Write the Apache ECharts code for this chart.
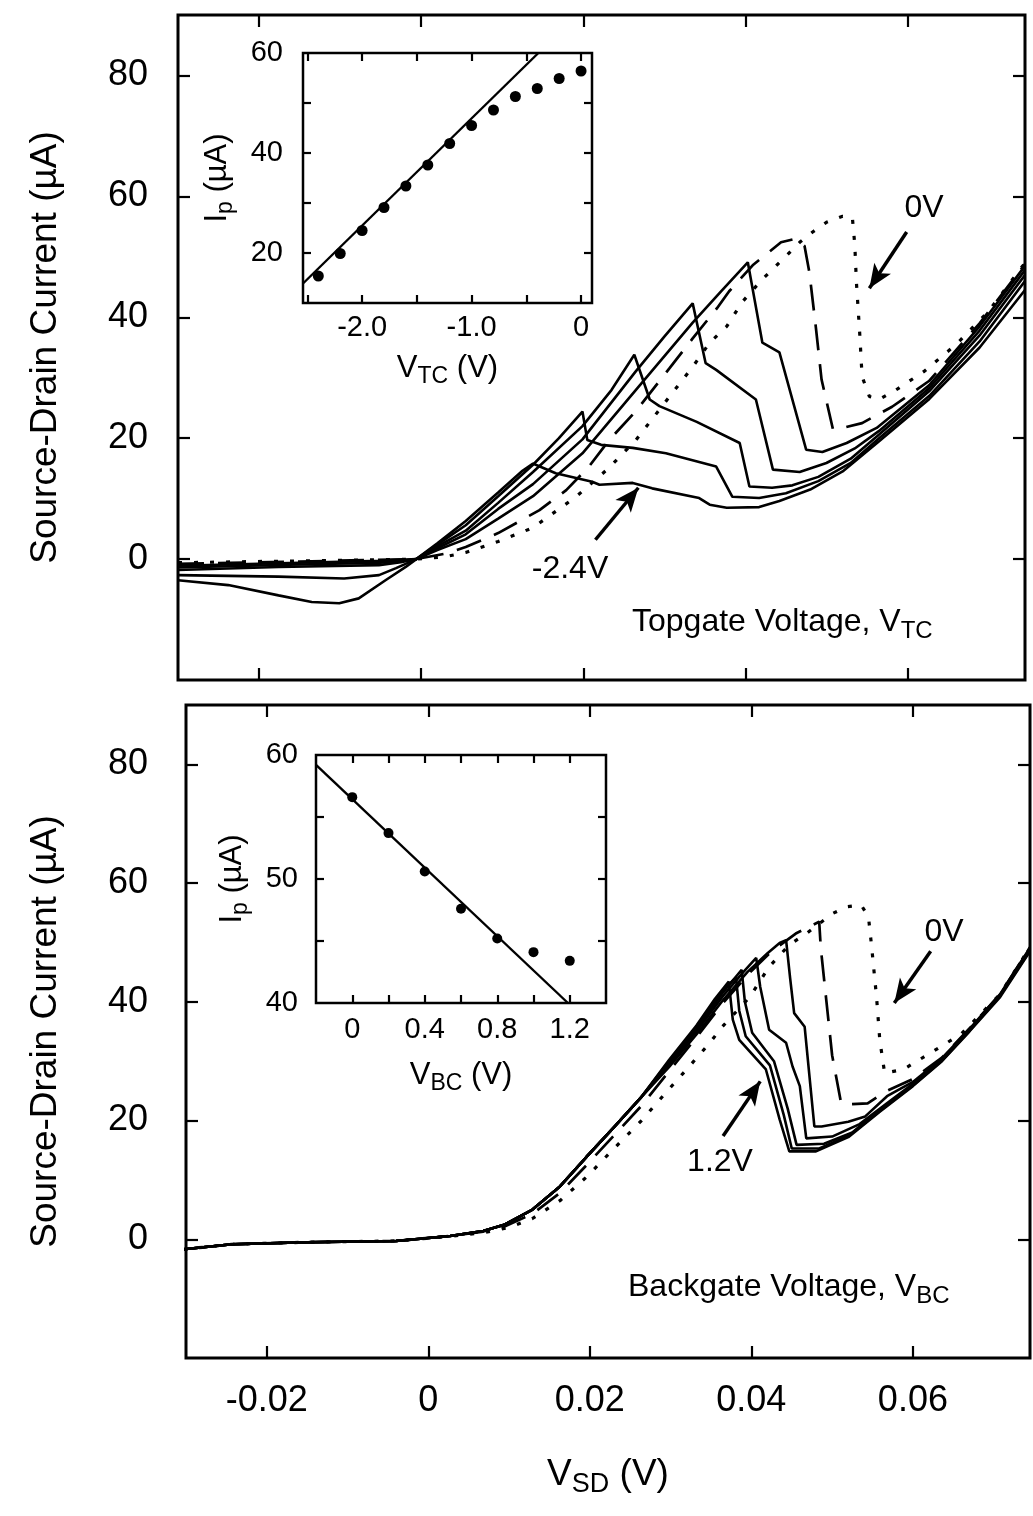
<!DOCTYPE html>
<html>
<head>
<meta charset="utf-8">
<script src="https://cdn.jsdelivr.net/npm/echarts@6.0.0/dist/echarts.min.js"></script>
<style>
html, body { margin: 0; padding: 0; background: #fff; }
#chart { width: 1033px; height: 1516px; }
</style>
</head>
<body>
<div id="chart"></div>
<script>
'use strict';

// ---- top panel: I-V curves for topgate voltage V_TC (every 0.4 V) ----
const tcM24 = [[-0.0300,-3.5],[-0.0238,-4.3],[-0.0176,-6.0],[-0.0135,-7.1],[-0.0101,-7.3],[-0.0077,-6.5],[-0.0044,-3.5],[-0.0019,-1.3],[-0.0006,0],[0.0020,2.6],[0.0055,6.3],[0.0095,11.0],[0.0125,14.6],[0.0138,15.8],[0.0145,15.4],[0.0166,14.2],[0.0211,12.8],[0.0220,12.3],[0.0261,12.6],[0.0285,11.7],[0.0343,10.1],[0.0356,9.0],[0.0377,8.5],[0.0417,8.6],[0.0442,9.6],[0.0480,11.5],[0.0520,14.5],[0.0565,19.5],[0.0627,26.5],[0.0689,35.0],[0.0745,44.5]];
const tcM20 = [[-0.0300,-2.65],[-0.0176,-2.9],[-0.0095,-3.2],[-0.0052,-2.65],[-0.0031,-1.5],[-0.0006,0],[0.0020,2.4],[0.0055,5.6],[0.0095,10.4],[0.0138,15.6],[0.0170,20.0],[0.0199,24.4],[0.0205,19.7],[0.0222,18.9],[0.0261,18.4],[0.0302,17.5],[0.0364,15.3],[0.0384,10.3],[0.0417,10.1],[0.0450,10.9],[0.0490,12.9],[0.0530,15.9],[0.0565,20.0],[0.0627,27.0],[0.0689,36.0],[0.0745,46.0]];
const tcM16 = [[-0.0300,-1.8],[-0.0176,-1.3],[-0.0052,-1.0],[-0.0025,-0.5],[-0.0006,0],[0.0020,2.1],[0.0055,4.7],[0.0095,9.3],[0.0138,14.4],[0.0199,22.0],[0.0235,28.0],[0.0263,33.8],[0.0282,26.4],[0.0294,25.3],[0.0340,22.7],[0.0393,19.2],[0.0405,12.0],[0.0433,11.8],[0.0458,12.2],[0.0490,13.6],[0.0530,16.6],[0.0565,20.6],[0.0627,27.8],[0.0689,37.0],[0.0745,47.0]];
const tcM12 = [[-0.0300,-1.4],[-0.0150,-0.9],[-0.0050,-0.6],[-0.0006,0],[0.0020,1.8],[0.0055,4.1],[0.0095,8.3],[0.0138,12.4],[0.0199,19.8],[0.0265,31.1],[0.0300,36.8],[0.0335,42.3],[0.0351,32.4],[0.0364,31.3],[0.0413,26.4],[0.0434,14.8],[0.0467,14.4],[0.0500,15.9],[0.0535,18.3],[0.0565,21.2],[0.0627,28.3],[0.0689,37.8],[0.0745,47.8]];
const tcM08 = [[-0.0300,-1.1],[-0.0150,-0.6],[-0.0050,-0.3],[-0.0006,0],[0.0020,1.5],[0.0055,3.3],[0.0095,6.7],[0.0138,10.4],[0.0199,17.5],[0.0265,28.0],[0.0335,39.1],[0.0370,44.3],[0.0403,49.1],[0.0421,35.8],[0.0442,34.2],[0.0475,18.1],[0.0495,17.7],[0.0525,19.2],[0.0562,21.7],[0.0627,28.8],[0.0689,38.5],[0.0745,48.5]];
const tcM04 = [[-0.0300,-0.8],[-0.0150,-0.4],[-0.0006,0],[0.0030,0.9],[0.0055,2.0],[0.0095,4.3],[0.0146,8.1],[0.0179,11.4],[0.0207,15.3],[0.0232,19.7],[0.0265,24.5],[0.0306,31.5],[0.0335,36.5],[0.0365,41.5],[0.0380,44.3],[0.0409,48.6],[0.0444,52.4],[0.0462,53.0],[0.0473,51.8],[0.0479,47.4],[0.0487,38.3],[0.0494,29.7],[0.0508,21.5],[0.0514,21.5],[0.0544,22.5],[0.0581,25.2],[0.0627,29.5],[0.0689,39.0],[0.0745,48.8]];
const tc00 = [[-0.0300,-0.6],[-0.0150,-0.3],[-0.0050,-0.1],[-0.0006,0],[0.0030,0.4],[0.0055,1.1],[0.0095,2.9],[0.0138,5.2],[0.0191,10.3],[0.0231,15.0],[0.0265,19.7],[0.0310,27.5],[0.0335,31.8],[0.0356,35.8],[0.0377,38.5],[0.0396,42.5],[0.0421,46.3],[0.0450,50.1],[0.0467,52.4],[0.0483,54.1],[0.0500,55.7],[0.0520,56.7],[0.0532,56.5],[0.0535,52.0],[0.0537,45.8],[0.0541,37.5],[0.0544,30.2],[0.0553,26.9],[0.0565,26.4],[0.0586,28.0],[0.0620,31.0],[0.0660,35.5],[0.0700,41.0],[0.0745,49.0]];

// ---- bottom panel: I-V curves for backgate voltage V_BC (every 0.2 V) ----
// part shared by the solid curves
const bcBase = [[-0.0304,-1.7],[-0.0243,-0.84],[-0.0150,-0.5],[-0.0040,-0.28],[0.0027,0.56],[0.0068,1.4],[0.0095,2.5],[0.0129,5.0],[0.0163,8.9],[0.0196,13.9],[0.0230,18.9],[0.0264,24.0]];
const bc12 = [[0.0298,30.2],[0.0332,36.0],[0.0355,40.5],[0.0372,43.4],[0.0377,37.0],[0.0385,33.6],[0.0418,28.6],[0.0435,20.2],[0.0447,14.8],[0.0480,14.8],[0.0520,17.2],[0.0559,21.5],[0.0600,25.8],[0.0636,30.0],[0.0670,35.0],[0.0708,40.8],[0.0745,48.5]];
const bc10 = [[0.0298,30.0],[0.0332,35.7],[0.0365,42.0],[0.0381,44.1],[0.0385,38.5],[0.0393,34.2],[0.0423,29.3],[0.0440,21.0],[0.0450,15.3],[0.0484,15.3],[0.0520,17.4],[0.0559,21.6],[0.0600,25.9],[0.0636,30.1],[0.0670,35.1],[0.0708,41.0],[0.0745,48.7]];
const bc08 = [[0.0298,29.8],[0.0332,35.4],[0.0365,41.6],[0.0388,45.4],[0.0392,40.0],[0.0401,34.8],[0.0428,30.0],[0.0445,22.0],[0.0456,15.9],[0.0490,16.1],[0.0525,18.0],[0.0559,21.8],[0.0600,26.0],[0.0636,30.2],[0.0670,35.2],[0.0708,41.1],[0.0745,48.8]];
const bc06 = [[0.0298,29.4],[0.0332,35.0],[0.0365,41.0],[0.0390,45.0],[0.0406,47.4],[0.0411,42.5],[0.0422,35.3],[0.0443,33.1],[0.0451,29.1],[0.0460,25.8],[0.0468,17.0],[0.0500,17.3],[0.0534,19.4],[0.0565,22.6],[0.0600,26.2],[0.0636,30.3],[0.0670,35.3],[0.0708,41.2],[0.0745,49.0]];
const bc04 = [[0.0298,29.0],[0.0332,34.5],[0.0365,40.3],[0.0395,45.0],[0.0420,48.2],[0.0435,49.9],[0.0443,50.4],[0.0448,44.0],[0.0453,38.1],[0.0466,35.8],[0.0476,21.8],[0.0478,19.0],[0.0487,19.0],[0.0520,19.8],[0.0541,20.7],[0.0568,24.1],[0.0600,26.5],[0.0636,30.5],[0.0670,35.4],[0.0708,41.3],[0.0745,49.1]];
const bc02 = [[-0.0304,-1.7],[-0.0243,-0.84],[-0.0150,-0.5],[-0.0040,-0.28],[0.0027,0.56],[0.0068,1.3],[0.0095,2.2],[0.0129,4.3],[0.0163,7.8],[0.0196,12.5],[0.0230,17.5],[0.0264,22.5],[0.0298,28.3],[0.0332,34.0],[0.0365,39.8],[0.0400,45.2],[0.0425,48.5],[0.0455,51.5],[0.0484,53.5],[0.0486,49.0],[0.0493,40.0],[0.0500,31.0],[0.0511,23.0],[0.0517,22.7],[0.0544,22.9],[0.0568,25.0],[0.0600,27.0],[0.0636,30.6],[0.0670,35.5],[0.0708,41.3],[0.0745,49.2]];
const bc00 = [[-0.0304,-1.7],[-0.0243,-0.84],[-0.0150,-0.5],[-0.0040,-0.28],[0.0027,0.5],[0.0068,1.1],[0.0100,2.0],[0.0129,3.5],[0.0163,6.5],[0.0196,10.5],[0.0230,15.3],[0.0264,20.0],[0.0298,25.3],[0.0323,29.1],[0.0348,33.0],[0.0364,35.8],[0.0398,40.8],[0.0422,45.9],[0.0447,49.6],[0.0468,51.5],[0.0501,54.9],[0.0518,56.0],[0.0536,56.3],[0.0545,54.3],[0.0549,49.2],[0.0555,40.8],[0.0559,33.6],[0.0565,28.0],[0.0588,28.6],[0.0622,31.4],[0.0660,34.6],[0.0708,41.3],[0.0745,49.2]];

// ---- insets: peak current Ip vs gate voltage ----
const tcInsetV = [-2.4,-2.2,-2.0,-1.8,-1.6,-1.4,-1.2,-1.0,-0.8,-0.6,-0.4,-0.2,0];
const tcInsetIp = [15.4,19.9,24.5,29.1,33.4,37.6,41.9,45.5,48.6,51.3,52.9,54.9,56.4];
const tcFit = [[-2.54,13.9],[-0.39,60]];
const bcInsetV = [0,0.2,0.4,0.6,0.8,1.0,1.2];
const bcInsetIp = [56.6,53.7,50.6,47.6,45.2,44.1,43.4];
const bcFit = [[-0.2,59.2],[1.19,40]];

// ---- ticks ----
const vsdTicks = [-0.02,0,0.02,0.04,0.06];
const isdTicks = [0,20,40,60,80];
const vtcTicks = [-2.5,-2,-1.5,-1,-0.5,0];
const vtcLabels = [-2,-1,0];
const ipTopTicks = [20,30,40,50];
const ipTopLabels = [20,40,60];
const vbcTicks = [0,0.2,0.4,0.6,0.8,1.0,1.2];
const vbcLabels = [0,0.4,0.8,1.2];
const ipBotTicks = [45,50,55];
const ipBotLabels = [40,50,60];

// arrows next to the curve labels (data coords, tail -> head)
const arrowTop0 = [[0.0599,54.1],[0.0553,44.8]];
const arrowTop24 = [[0.0215,3.2],[0.0268,11.8]];
const arrowBot0 = [[0.0622,48.5],[0.0577,39.8]];
const arrowBot12 = [[0.0365,17.4],[0.0411,26.6]];

const FONT = '"Liberation Sans", Arial, Helvetica, sans-serif';
const K = '#000';

function sub(size, pad) {
    return { s: { fontSize: size, fontFamily: FONT, color: K, padding: [pad, 0, 0, 0] } };
}

function axis(grid, pos, min, max, ticks, labels, fmt, size, margin, tickLen) {
    return {
        type: 'value', gridIndex: grid, position: pos, min: min, max: max,
        axisLine: { show: false, onZero: false },
        splitLine: { show: false },
        axisTick: { show: true, inside: true, length: tickLen, customValues: ticks,
            lineStyle: { color: K, width: 2.2 } },
        axisLabel: labels ? { show: true, customValues: labels, formatter: fmt, color: K,
            fontFamily: FONT, fontSize: size, margin: margin } : { show: false }
    };
}

function curve(data, x, y, type) {
    let ls = { color: K, width: 2.6, type: 'solid' };
    if (type === 'dot') ls = { color: K, width: 3.2, type: [4, 12] };
    if (type === 'dash') ls = { color: K, width: 2.7, type: [26, 14] };
    return { type: 'line', xAxisIndex: x, yAxisIndex: y, data: data, symbol: 'none',
        lineStyle: ls, silent: true, clip: true };
}

function arrow(pts) {
    return [{ coord: pts[0] }, { coord: pts[1] }];
}

const fmtV = v => String(v);
const fmtVtc = v => v === 0 ? '0' : v.toFixed(1);

const chart = echarts.init(document.getElementById('chart'), null, { renderer: 'canvas' });

let option = {
    animation: false,
    backgroundColor: '#fff',
    grid: [
        { left: 178, top: 15, width: 847, height: 665, show: true, borderColor: K, borderWidth: 3 },
        { left: 303, top: 53, width: 289, height: 250, show: true, borderColor: K, borderWidth: 2.5, backgroundColor: '#fff' },
        { left: 186, top: 705, width: 844, height: 653, show: true, borderColor: K, borderWidth: 3 },
        { left: 316, top: 755, width: 290, height: 248, show: true, borderColor: K, borderWidth: 2.5, backgroundColor: '#fff' }
    ],
    xAxis: [
        axis(0, 'bottom', -0.03, 0.0745, vsdTicks, null, null, 0, 0, 12),
        axis(0, 'top', -0.03, 0.0745, vsdTicks, null, null, 0, 0, 12),
        Object.assign(axis(1, 'bottom', -2.54, 0.1, vtcTicks, vtcLabels, fmtVtc, 29, 10, 8), {
            name: 'V{s|TC} (V)', nameLocation: 'middle', nameGap: 45,
            nameTextStyle: { color: K, fontFamily: FONT, fontSize: 31, rich: sub(23, 17) } }),
        axis(1, 'top', -2.54, 0.1, vtcTicks, null, null, 0, 0, 8),
        Object.assign(axis(2, 'bottom', -0.03, 0.0745, vsdTicks, vsdTicks, fmtV, 36, 25, 12), {
            name: 'V{s|SD} (V)', nameLocation: 'middle', nameGap: 94,
            nameTextStyle: { color: K, fontFamily: FONT, fontSize: 37, rich: sub(27, 19) } }),
        axis(2, 'top', -0.03, 0.0745, vsdTicks, null, null, 0, 0, 12),
        Object.assign(axis(3, 'bottom', -0.2, 1.4, vbcTicks, vbcLabels, fmtV, 29, 12, 8), {
            name: 'V{s|BC} (V)', nameLocation: 'middle', nameGap: 52,
            nameTextStyle: { color: K, fontFamily: FONT, fontSize: 31, rich: sub(23, 17) } }),
        axis(3, 'top', -0.2, 1.4, vbcTicks, null, null, 0, 0, 8)
    ],
    yAxis: [
        Object.assign(axis(0, 'left', -20, 90, isdTicks, isdTicks, fmtV, 36, 30, 12), {
            name: 'Source-Drain Current (µA)', nameLocation: 'middle', nameGap: 114,
            nameTextStyle: { color: K, fontFamily: FONT, fontSize: 37 } }),
        axis(0, 'right', -20, 90, isdTicks, null, null, 0, 0, 12),
        Object.assign(axis(1, 'left', 10, 60, ipTopTicks, ipTopLabels, fmtV, 29, 20, 8), {
            name: 'I{s|p} (µA)', nameLocation: 'middle', nameGap: 66,
            nameTextStyle: { color: K, fontFamily: FONT, fontSize: 31, rich: sub(23, 17) } }),
        axis(1, 'right', 10, 60, ipTopTicks, null, null, 0, 0, 8),
        Object.assign(axis(2, 'left', -20, 90, isdTicks, isdTicks, fmtV, 36, 38, 12), {
            name: 'Source-Drain Current (µA)', nameLocation: 'middle', nameGap: 122,
            nameTextStyle: { color: K, fontFamily: FONT, fontSize: 37 } }),
        axis(2, 'right', -20, 90, isdTicks, null, null, 0, 0, 12),
        Object.assign(axis(3, 'left', 40, 60, ipBotTicks, ipBotLabels, fmtV, 29, 18, 8), {
            name: 'I{s|p} (µA)', nameLocation: 'middle', nameGap: 64,
            nameTextStyle: { color: K, fontFamily: FONT, fontSize: 31, rich: sub(23, 17) } }),
        axis(3, 'right', 40, 60, ipBotTicks, null, null, 0, 0, 8)
    ],
    series: [
        curve(tcM24, 0, 0), curve(tcM20, 0, 0), curve(tcM16, 0, 0), curve(tcM12, 0, 0),
        curve(tcM08, 0, 0), curve(tcM04, 0, 0, 'dash'),
        Object.assign(curve(tc00, 0, 0, 'dot'), {
            markLine: { silent: true, symbol: ['none', 'arrow'], symbolSize: [15, 24],
                label: { show: false }, lineStyle: { color: K, width: 3.5, type: 'solid' },
                data: [arrow(arrowTop0), arrow(arrowTop24)] } }),

        curve(bcBase.concat(bc12), 4, 4), curve(bcBase.concat(bc10), 4, 4),
        curve(bcBase.concat(bc08), 4, 4), curve(bcBase.concat(bc06), 4, 4),
        curve(bcBase.concat(bc04), 4, 4), curve(bc02, 4, 4, 'dash'),
        Object.assign(curve(bc00, 4, 4, 'dot'), {
            markLine: { silent: true, symbol: ['none', 'arrow'], symbolSize: [15, 24],
                label: { show: false }, lineStyle: { color: K, width: 3.5, type: 'solid' },
                data: [arrow(arrowBot0), arrow(arrowBot12)] } }),

        // insets
        { type: 'line', xAxisIndex: 2, yAxisIndex: 2, data: tcFit, symbol: 'none',
            lineStyle: { color: K, width: 2.4 }, silent: true },
        { type: 'scatter', xAxisIndex: 2, yAxisIndex: 2, symbol: 'circle', symbolSize: 11,
            itemStyle: { color: K, opacity: 1 }, silent: true,
            data: tcInsetV.map((v, i) => [v, tcInsetIp[i]]) },
        { type: 'line', xAxisIndex: 6, yAxisIndex: 6, data: bcFit, symbol: 'none',
            lineStyle: { color: K, width: 2.4 }, silent: true },
        { type: 'scatter', xAxisIndex: 6, yAxisIndex: 6, symbol: 'circle', symbolSize: 10,
            itemStyle: { color: K, opacity: 1 }, silent: true,
            data: bcInsetV.map((v, i) => [v, bcInsetIp[i]]) }
    ],
    graphic: [
        { type: 'text', x: 924, y: 208, silent: true,
            style: { text: '0V', fill: K, font: '32px ' + FONT, align: 'center', verticalAlign: 'middle' } },
        { type: 'text', x: 570, y: 569, silent: true,
            style: { text: '-2.4V', fill: K, font: '32px ' + FONT, align: 'center', verticalAlign: 'middle' } },
        { type: 'text', x: 632, y: 622, silent: true,
            style: { text: 'Topgate Voltage, V{s|TC}', fill: K, font: '32px ' + FONT,
                align: 'left', verticalAlign: 'middle',
                rich: { s: { fill: K, fontSize: 24, fontFamily: FONT, padding: [18, 0, 0, 0] } } } },
        { type: 'text', x: 944, y: 932, silent: true,
            style: { text: '0V', fill: K, font: '32px ' + FONT, align: 'center', verticalAlign: 'middle' } },
        { type: 'text', x: 720, y: 1162, silent: true,
            style: { text: '1.2V', fill: K, font: '32px ' + FONT, align: 'center', verticalAlign: 'middle' } },
        { type: 'text', x: 628, y: 1287, silent: true,
            style: { text: 'Backgate Voltage, V{s|BC}', fill: K, font: '32px ' + FONT,
                align: 'left', verticalAlign: 'middle',
                rich: { s: { fill: K, fontSize: 24, fontFamily: FONT, padding: [18, 0, 0, 0] } } } }
    ]
};

chart.setOption(option);
</script>
</body>
</html>
